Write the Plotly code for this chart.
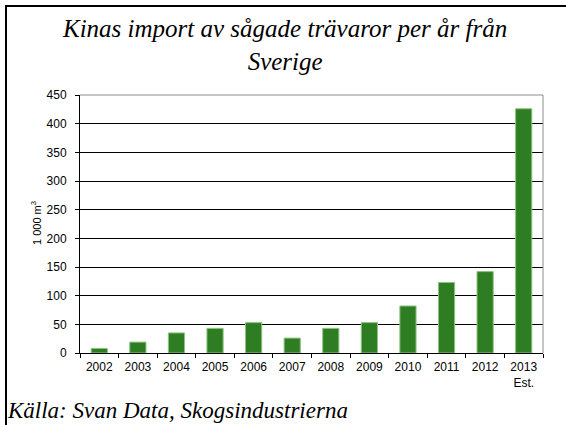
import plotly.graph_objects as go

years = ["2002", "2003", "2004", "2005", "2006", "2007", "2008", "2009", "2010", "2011", "2012", "2013<br>Est."]
values = [8, 19, 35, 43, 53, 26, 43, 53, 82, 123, 142, 426]
y_ticks = [0, 50, 100, 150, 200, 250, 300, 350, 400, 450]

W, H = 566, 425
L, R, T, B = 80, 23, 95, 72
pw, ph = W - L - R, H - T - B
SANS = "Arial, 'Liberation Sans', sans-serif"
SERIF = "'Liberation Serif', 'Times New Roman', serif"

def px(x):
    return (x - L) / pw

def py(y):
    return (H - B - y) / ph

fig = go.Figure()
fig.add_trace(go.Bar(
    x=years, y=values,
    marker=dict(color="#2E7D23", line=dict(color="#8CC47F", width=1)),
    width=0.42,
))

fig.update_layout(
    width=W, height=H,
    margin=dict(l=L, r=R, t=T, b=B),
    paper_bgcolor="white", plot_bgcolor="white",
    showlegend=False,
    font=dict(family=SANS, size=12, color="#000"),
    xaxis=dict(
        type="category",
        showline=True, linecolor="#000", linewidth=1,
        ticks="outside", tickson="boundaries", ticklen=4, tickcolor="#000",
        showgrid=False,
        tickfont=dict(size=12),
        ticklabelstandoff=3,
    ),
    yaxis=dict(
        range=[0, 450],
        tickvals=y_ticks,
        showline=True, linecolor="#000", linewidth=1,
        ticks="outside", ticklen=4, tickcolor="#000",
        showgrid=True, gridcolor="#000", gridwidth=1,
        zeroline=False,
        tickfont=dict(size=12),
        ticklabelstandoff=6,
    ),
    shapes=[
        dict(type="path", xref="paper", yref="paper",
             path="M 0,1 L 1,1 L 1,0",
             line=dict(color="#8c8c8c", width=1), layer="above"),
        dict(type="rect", xref="paper", yref="paper",
             x0=px(6), x1=px(W + 20), y0=py(H + 20), y1=py(6),
             line=dict(color="#000", width=2)),
    ],
    annotations=[
        dict(text="Kinas import av sågade trävaror per år från<br>Sverige",
             xref="paper", yref="paper", x=px(284), y=py(45),
             xanchor="center", yanchor="middle", showarrow=False,
             font=dict(family=SERIF, style="italic", size=25, color="#000")),
        dict(text="1 000 m<sup>3</sup>", textangle=-90,
             xref="paper", yref="paper", x=px(36), y=py(223),
             xanchor="center", yanchor="middle", showarrow=False,
             font=dict(size=11)),
        dict(text="Källa: Svan Data, Skogsindustrierna",
             xref="paper", yref="paper", x=px(5), y=py(410),
             xanchor="left", yanchor="middle", showarrow=False,
             font=dict(family=SERIF, style="italic", size=23, color="#000")),
    ],
)

fig.write_html("out.html", config={"displayModeBar": False},
               post_script="document.body.style.margin='0';")
